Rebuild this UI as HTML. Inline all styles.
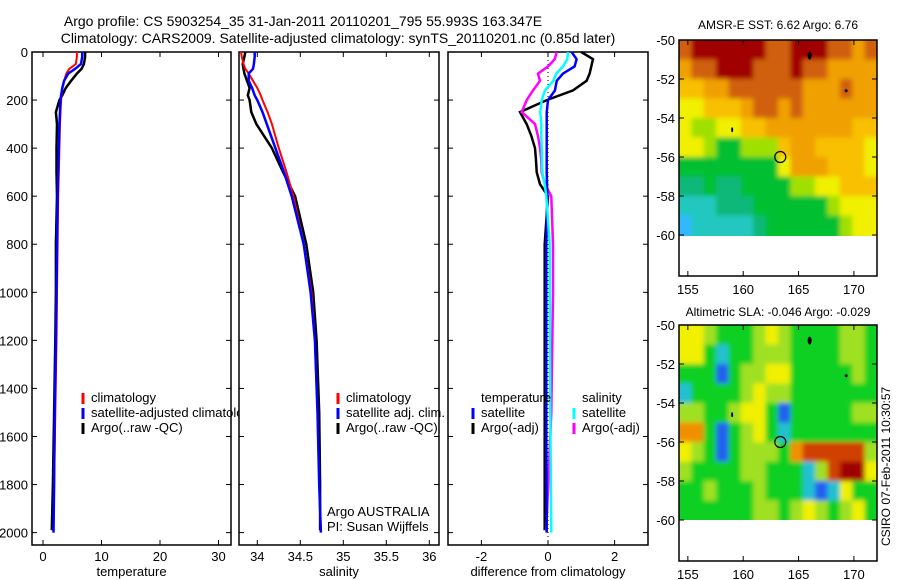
<!DOCTYPE html>
<html><head><meta charset="utf-8"><style>
html,body{margin:0;padding:0;background:#fff;}
svg{display:block;font-family:"Liberation Sans",sans-serif;}
text{font-size:13px;fill:#000;}
</style></head><body>
<svg id="chart" width="900" height="580" viewBox="0 0 900 580" xmlns="http://www.w3.org/2000/svg">
<defs>
<filter id="blur" x="-5%" y="-5%" width="110%" height="110%"><feGaussianBlur stdDeviation="2.5"/></filter>
<clipPath id="clipTop"><rect x="679" y="40" width="198" height="196"/></clipPath>
<clipPath id="clipBot"><rect x="679" y="325" width="198" height="195"/></clipPath>
<clipPath id="clipLeg"><rect x="0" y="380" width="239" height="60"/></clipPath>
</defs>
<text x="303" y="26" text-anchor="middle" style="font-size:14px">Argo profile: CS 5903254_35 31-Jan-2011 20110201_795 55.993S 163.347E</text>
<text x="338" y="43" text-anchor="middle" style="font-size:14px">Climatology: CARS2009. Satellite-adjusted climatology: synTS_20110201.nc (0.85d later)</text>
<text x="778" y="29" text-anchor="middle" style="font-size:12px">AMSR-E SST: 6.62 Argo: 6.76</text>
<text x="778" y="316" text-anchor="middle" style="font-size:12px">Altimetric SLA: -0.046 Argo: -0.029</text>
<text transform="translate(890,546) rotate(-90)" style="font-size:12px">CSIRO 07-Feb-2011 10:30:57</text>
<g id="g"></g>
</svg>
<script>
// ---- profile data ----
const depths = [0,20,50,70,90,120,150,180,200,250,300,400,500,600,800,1000,1200,1500,1800,2000];
const tempClim = [5.8,5.8,5.6,4.5,4.0,3.6,3.3,3.2,3.1,3.0,2.9,2.8,2.7,2.6,2.5,2.4,2.3,2.1,1.9,1.8];
const tempSat = [6.7,6.7,6.5,5.5,4.3,3.6,3.3,3.1,3.0,2.9,2.8,2.7,2.6,2.5,2.4,2.3,2.2,2.0,1.9,1.8];
const tempArgo = [7.2,7.2,7.0,6.6,5.8,4.8,3.9,3.3,2.8,2.2,2.4,2.3,2.3,2.4,2.2,2.2,2.1,1.9,1.7,1.5];
const salClim = [33.81,33.82,33.84,33.86,33.9,33.95,34.0,34.04,34.06,34.12,34.17,34.25,34.34,34.42,34.54,34.63,34.67,34.70,34.72,34.74];
const salSat = [33.97,33.97,33.96,33.95,33.9,33.9,33.94,33.97,34.0,34.06,34.11,34.21,34.31,34.40,34.54,34.62,34.67,34.70,34.72,34.74];
const salArgo = [33.86,33.85,33.83,33.84,33.85,33.88,33.91,33.89,33.91,33.93,33.99,34.17,34.30,34.44,34.57,34.65,34.69,34.72,34.73,34.73];
const dDepth = [0,30,60,90,120,160,200,250,300,350,400,450,500,550,600,800,1000,1500,2000];
const dTempSat = [0.71,0.86,0.8,0.45,0.26,0.21,0.0,-0.04,-0.04,-0.04,-0.04,-0.04,-0.04,-0.03,-0.02,-0.05,-0.05,-0.05,-0.04];
const dSalSat = [0.6,0.58,0.45,0.25,0.16,-0.09,-0.19,-0.23,-0.2,-0.2,-0.19,-0.18,-0.17,-0.1,-0.05,0.05,0.05,0.07,0.1];
const dSalArgo = [0.26,0.2,0.0,-0.3,-0.24,-0.45,-0.64,-0.79,-0.39,-0.3,-0.24,-0.2,-0.19,-0.09,0.1,0.15,0.15,0.1,-0.05];
const dTempArgo = [1.0,1.35,1.3,1.25,1.16,0.75,-0.04,-0.84,-0.64,-0.5,-0.39,-0.36,-0.34,-0.24,0.0,-0.1,-0.1,-0.1,-0.1];
const depthTicks = [0,200,400,600,800,1000,1200,1400,1600,1800,2000];
const tempTicks = [0,10,20,30];
const salTicks = [34,34.5,35,35.5,36];
const salTickLabels = ["34","34.5","35","35.5","36"];
const diffTicks = [-2,0,2];
// ---- map data (colour class per cell, rows from -50 to -60) ----
const sstGrid = [
[8,9,9,9,9,9,9,8,8,9,9,9,8,8,7,8],
[7,8,8,9,9,9,8,8,8,9,8,8,7,7,7,7],
[6,6,7,7,8,8,8,8,8,8,7,7,7,8,7,7],
[5,5,6,6,6,7,8,8,7,8,7,7,7,7,7,7],
[5,4,4,5,5,6,6,7,7,7,7,7,7,7,6,6],
[5,5,4,3,3,4,4,4,6,7,7,6,6,6,6,5],
[3,3,3,3,3,3,3,3,5,7,7,7,6,6,6,5],
[2,2,3,2,2,3,3,3,3,4,4,5,5,6,6,6],
[1,1,1,2,2,2,3,3,3,3,3,3,4,5,5,5],
[0,1,1,1,1,1,2,3,3,3,3,3,3,4,5,5]];
const slaGrid = [
[5,5,4,3,3,3,4,5,4,3,3,3,3,4,4,3],
[5,5,3,2,3,3,4,4,4,3,3,3,3,4,4,3],
[3,3,3,1,3,4,4,5,5,3,3,3,3,3,4,3],
[2,3,3,3,3,4,5,4,4,3,3,3,3,3,3,3],
[4,4,3,3,4,5,5,3,1,3,3,3,3,3,4,4],
[6,6,3,1,3,4,5,3,2,3,3,3,3,3,3,3],
[5,4,3,1,3,4,4,4,3,6,7,7,7,7,7,4],
[4,3,3,3,3,4,4,3,3,3,2,4,7,8,8,5],
[3,3,4,3,3,3,4,3,3,3,2,1,2,5,3,3],
[3,3,3,3,3,3,4,4,3,4,5,4,3,4,5,3]];
const sstColors = ["#30b8ff","#20c8c0","#10b878","#00c030","#a0e000","#f0f000","#f8c000","#f0a000","#d06010","#a00000"];
const slaColors = ["#0020d0","#2060f0","#20c0d0","#10d020","#a0e020","#f0f000","#f09000","#d04000","#a00000"];
const lonTicks = [155,160,165,170];
const latTicks = [-50,-52,-54,-56,-58,-60];

const NS="http://www.w3.org/2000/svg";
const g=document.getElementById('g');
function el(t,a,p){const e=document.createElementNS(NS,t);for(const k in a)e.setAttribute(k,a[k]);(p||g).appendChild(e);return e;}
function txt(x,y,s,anchor,p){const e=el('text',{x:x,y:y,'text-anchor':anchor||'middle'},p);e.textContent=s;return e;}
const yD=d=>52+d*0.2403;
const Y0=52,Y1=545;
function panel(name,x0,x1,xs,ticks,labels,xlabel,showY){
  const grp=el('g',{});
  
  
  const fr=el('rect',{x:x0,y:Y0,width:x1-x0,height:Y1-Y0,fill:'none',stroke:'#000','stroke-width':1.5},grp);
  
  
  ticks.forEach((v,i)=>{const x=xs(v);
    el('line',{x1:x,y1:Y1,x2:x,y2:Y1-5,stroke:'#000'},grp);
    el('line',{x1:x,y1:Y0,x2:x,y2:Y0+5,stroke:'#000'},grp);
    const t=txt(x,561,labels[i],'middle',grp);
    
    
  });
  depthTicks.forEach(d=>{const y=yD(d);
    el('line',{x1:x0,y1:y,x2:x0+5,y2:y,stroke:'#000'},grp);
    el('line',{x1:x1,y1:y,x2:x1-5,y2:y,stroke:'#000'},grp);
    if(showY){const t=txt(x0-4,y+5,String(d),'end',grp);
      
      }
  });
  const xl=txt((x0+x1)/2,576,xlabel,'middle',grp);
  
  
  return grp;
}
function line(xs,vals,dd,color,w,name){
  const pts=vals.map((v,i)=>xs(v).toFixed(1)+','+yD(dd[i]).toFixed(1)).join(' ');
  const p=el('polyline',{points:pts,fill:'none',stroke:color,'stroke-width':w});
  
  
}
function legend(x,y,color,label,clip){
  const l=el('line',{x1:x,y1:y-9,x2:x,y2:y+2,stroke:color,'stroke-width':3});
  
  
  const t=txt(x+8,y,label,'start');
  if(clip)t.setAttribute('clip-path','url(#clipLeg)');
  
  
}
// temperature
const xT=v=>43+v*5.85;
panel('temperature-panel',32,231,xT,tempTicks,tempTicks.map(String),'temperature',true);
line(xT,tempArgo,depths.map(d=>Math.min(d,1990)),'#000',2.5,'temp-argo-line');
line(xT,tempClim,depths,'#f00',2,'temp-climatology-line');
line(xT,tempSat,depths,'#0000ff',2.5,'temp-satellite-line');
legend(83,402,'#f00','climatology');
legend(83,417,'#0000ff','satellite-adjusted climatology',true);
legend(83,432,'#000','Argo(..raw -QC)');
// salinity
const xS=v=>257.3+(v-34)*86;
panel('salinity-panel',239,439,xS,salTicks,salTickLabels,'salinity',false);
line(xS,salArgo,depths.map(d=>Math.min(d,1990)),'#000',2.5,'sal-argo-line');
line(xS,salClim,depths,'#f00',2,'sal-climatology-line');
line(xS,salSat,depths,'#0000ff',2.5,'sal-satellite-line');
legend(338,402,'#f00','climatology');
legend(338,417,'#0000ff','satellite adj. clim.');
legend(338,432,'#000','Argo(..raw -QC)');
let t1=txt(327,516,'Argo AUSTRALIA','start');
let t2=txt(327,531,'PI: Susan Wijffels','start');
// difference
const xD=v=>548+v*33.3;
panel('difference-panel',448,648,xD,diffTicks,diffTicks.map(String),'difference from climatology',false);
const z=el('line',{x1:xD(0),y1:Y0,x2:xD(0),y2:Y1,stroke:'#000','stroke-dasharray':'1,3'});

line(xD,dTempArgo,dDepth.map(d=>Math.min(d,1990)),'#000',2.5,'diff-temp-argo-line');
line(xD,dSalArgo,dDepth.map(d=>Math.min(d,1990)),'#ff00ff',2.5,'diff-sal-argo-line');
line(xD,dTempSat,dDepth,'#0000ff',2.5,'diff-temp-satellite-line');
line(xD,dSalSat,dDepth,'#00ffff',2.5,'diff-sal-satellite-line');
let h1=txt(481,402,'temperature','start');
let h2=txt(582,402,'salinity','start');
legend(473,417,'#0000ff','satellite');
legend(473,432,'#000','Argo(-adj)');
legend(574,417,'#00ffff','satellite');
legend(574,432,'#ff00ff','Argo(-adj)');
// maps
const mx=lon=>679+(lon-154.2)*11.07;
function map(name,top,grid,colors,clipId){
  const ly=lat=>top+(-50-lat)*19.5;
  const grp=el('g',{});
  
  
  const cg=el('g',{'clip-path':'url(#'+clipId+')'},grp);
  
  
  const bg=el('g',{filter:'url(#blur)'},cg);
  const rows=grid.length,cols=grid[0].length,cw=(877-679)/cols,ch=(ly(-60)-ly(-50))/rows;
  grid.forEach((row,r)=>row.forEach((v,c)=>{
    let x=679+c*cw,y=ly(-50)+r*ch,w=cw+0.6,h=ch+0.6;
    if(c===0){x-=10;w+=10;} if(c===cols-1){w+=10;}
    if(r===0){y-=10;h+=10;} if(r===rows-1){h+=10;}
    const cell=el('rect',{x:x,y:y,width:w,height:h,fill:colors[v]},bg);
    
    
  }));
  const bottom=top+236;
  const fr=el('rect',{x:679,y:top,width:198,height:bottom-top,fill:'none',stroke:'#000','stroke-width':1.5},grp);
  
  lonTicks.forEach(l=>{const x=mx(l);
    el('line',{x1:x,y1:bottom,x2:x,y2:bottom-5,stroke:'#000'},grp);
    el('line',{x1:x,y1:top,x2:x,y2:top+5,stroke:'#000'},grp);
    const t=txt(x,bottom+18,String(l),'middle',grp);});
  latTicks.forEach(l=>{const y=ly(l);
    el('line',{x1:679,y1:y,x2:684,y2:y,stroke:'#000'},grp);
    el('line',{x1:877,y1:y,x2:872,y2:y,stroke:'#000'},grp);
    const t=txt(675,y+5,String(l),'end',grp);});
  [[166,-50.8,2,4],[169.3,-52.6,1.5,1.5],[159,-54.6,1,2.5]].forEach(p=>{
    const i=el('ellipse',{cx:mx(p[0]),cy:ly(p[1]),rx:p[2],ry:p[3],fill:'#000'},grp);
    });
  const c=el('circle',{cx:mx(163.35),cy:ly(-56),r:5.5,fill:'none',stroke:'#000','stroke-width':1.2},grp);
  
}
map('sst-map',40,sstGrid,sstColors,'clipTop');
map('sla-map',325,slaGrid,slaColors,'clipBot');
</script>
</body></html>
